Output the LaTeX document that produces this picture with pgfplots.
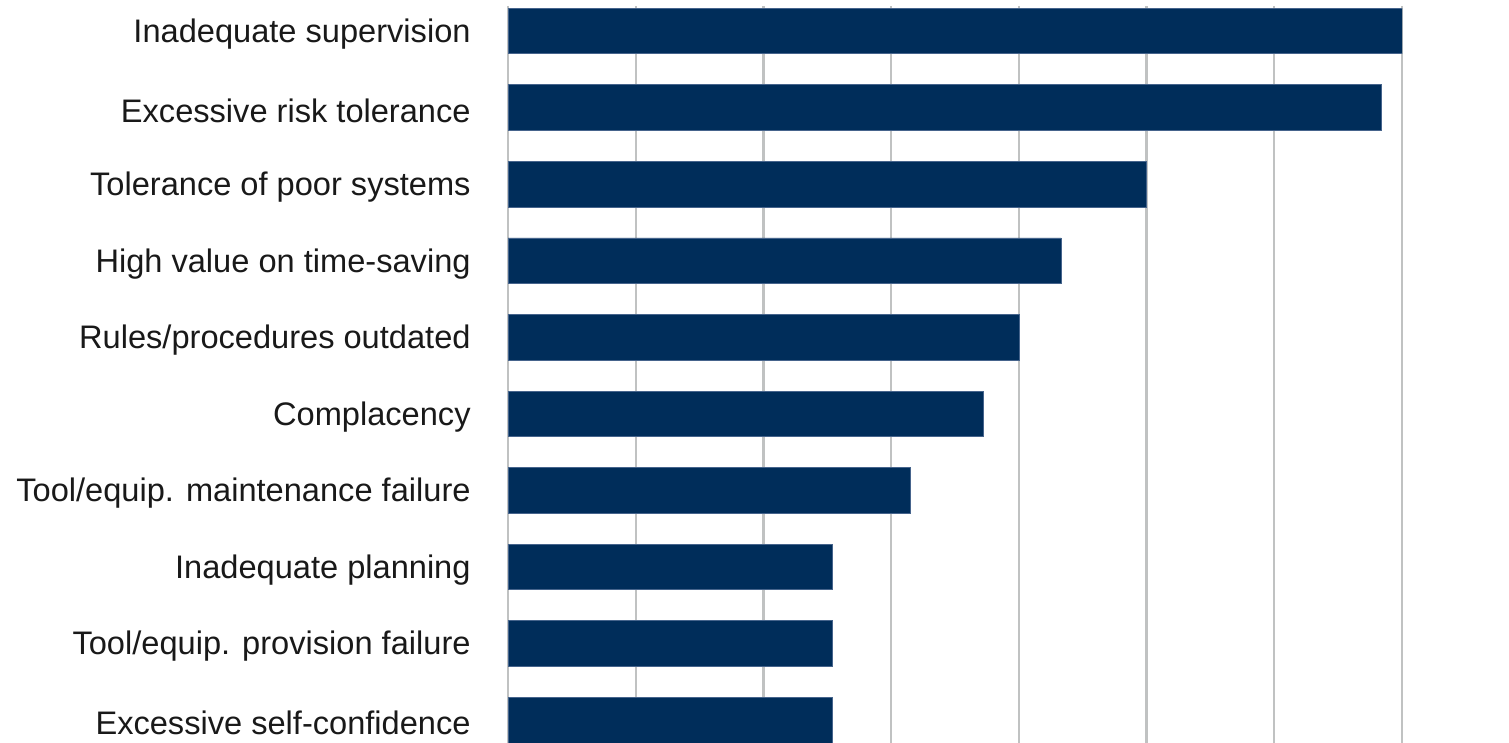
\documentclass[border=0pt]{standalone}
\usepackage{pgfplots}
\pgfplotsset{compat=1.18}
\usepackage{fontspec}
\setmainfont{Liberation Sans}
\definecolor{barblue}{RGB}{0,45,90}
\definecolor{baredge}{RGB}{70,100,140}
\definecolor{gridgray}{RGB}{192,194,194}
\definecolor{txt}{RGB}{25,25,25}
\begin{document}
\begin{tikzpicture}
\begin{axis}[
  at={(254pt,0pt)}, anchor=south west,
  scale only axis, width=447pt, height=368.5pt,
  xbar, bar width=0.595,
  xmin=0, xmax=7, ymin=-0.3, ymax=9.327,
  xtick={0,1,...,7}, xticklabels={},
  ytick={0,...,9},
  yticklabels={Excessive self-confidence,Tool/equip. provision failure,Inadequate planning,Tool/equip. maintenance failure,Complacency,Rules/procedures outdated,High value on time-saving,Tolerance of poor systems,Excessive risk tolerance,Inadequate supervision},
  axis line style={draw=none},
  major tick length=0pt,
  xmajorgrids, major grid style={gridgray, line width=1.2pt},
  yticklabel style={font=\fontsize{16.3}{19}\selectfont, text=txt, anchor=east, inner sep=0pt, xshift=-18.5pt, yshift=-1.5pt},
  clip=true,
]
\addplot[fill=barblue, draw=baredge, line width=0.3pt] coordinates {
  (2.54,0) (2.54,1) (2.54,2) (3.15,3) (3.72,4) (4.0,5) (4.33,6) (5.0,7) (6.84,8) (7.0,9)
};
\end{axis}
\pgfresetboundingbox
\path (0,0) rectangle (754.5pt,371.5pt);
\end{tikzpicture}
\end{document}
